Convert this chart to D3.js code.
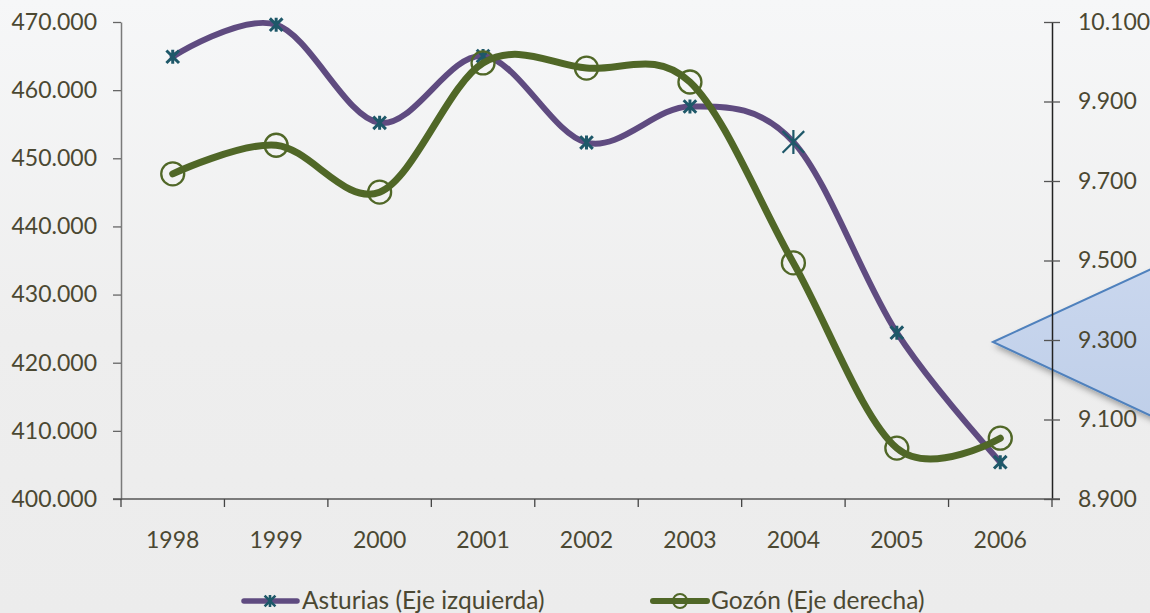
<!DOCTYPE html>
<html><head><meta charset="utf-8">
<script src="https://cdn.jsdelivr.net/npm/d3@7"></script>
<style>html,body{margin:0;padding:0;overflow:hidden;background:#eeeeee}</style>
</head><body>
<script>
const years = ["1998","1999","2000","2001","2002","2003","2004","2005","2006"];
const asturias = [464900, 469600, 455200, 465000, 452300, 457600, 452400, 424400, 405400];
const gozon = [9718, 9790, 9672, 9997, 9984, 9949, 9494, 9028, 9053];
const leftTicks = [400000, 410000, 420000, 430000, 440000, 450000, 460000, 470000];
const rightTicks = [8900, 9100, 9300, 9500, 9700, 9900, 10100];
const seriesNames = ["Asturias (Eje izquierda)", "Gozón (Eje derecha)"];

const W = 1150, H = 613;
const FONT = "Lato, 'Open Sans', sans-serif";
const TXT = "#4b4832";
const PURPLE = "#5f4b80", TEAL = "#1e5869", GREEN = "#506727";

const loc = d3.formatLocale({decimal: ",", thousands: ".", grouping: [3], currency: ["", "€"]});
const fmt = loc.format(",.0f");

const svg = d3.select("body").append("svg").attr("width", W).attr("height", H);
const defs = svg.append("defs");
const bg = defs.append("linearGradient").attr("id", "bg").attr("x1", 0).attr("y1", 0).attr("x2", 0).attr("y2", 1);
bg.append("stop").attr("offset", "0%").attr("stop-color", "#f6f7f8");
bg.append("stop").attr("offset", "55%").attr("stop-color", "#eeeeee");
bg.append("stop").attr("offset", "100%").attr("stop-color", "#ececec");
const cg = defs.append("linearGradient").attr("id", "cg").attr("x1", 0).attr("y1", 0).attr("x2", 0).attr("y2", 1);
cg.append("stop").attr("offset", "0%").attr("stop-color", "#cad7ee");
cg.append("stop").attr("offset", "100%").attr("stop-color", "#bfcfe9");
const sh = defs.append("filter").attr("id", "sh").attr("x", "-20%").attr("y", "-20%").attr("width", "150%").attr("height", "150%");
sh.append("feDropShadow").attr("dx", 3).attr("dy", 4).attr("stdDeviation", 3).attr("flood-color", "#000").attr("flood-opacity", 0.35);

svg.append("rect").attr("width", W).attr("height", H).attr("fill", "url(#bg)");

const x = d3.scaleBand().domain(years).range([121, 1052]);
const yL = d3.scaleLinear().domain([400000, 470000]).range([499, 22]);
const yR = d3.scaleLinear().domain([8900, 10100]).range([499, 22]);
const cx = d => x(d) + x.bandwidth() / 2;

// callout shape (decorative)
svg.append("path")
  .attr("d", "M993,342 L1162,264 L1162,421 Z")
  .attr("fill", "url(#cg)").attr("stroke", "#4f81bd").attr("stroke-width", 2)
  .attr("filter", "url(#sh)");

// left axis
const gL = svg.append("g").attr("transform", "translate(121,0)")
  .call(d3.axisLeft(yL).tickValues(leftTicks).tickFormat(fmt).tickSize(8).tickSizeOuter(0).tickPadding(16));
gL.select(".domain").attr("stroke", "#7a7a7a").attr("stroke-width", 1.5);
gL.selectAll(".tick line").attr("stroke", "#666").attr("stroke-width", 1.3);
gL.selectAll("text").attr("font-family", FONT).attr("font-size", 23).attr("fill", TXT);

// right axis
const gR = svg.append("g").attr("transform", "translate(1052,0)")
  .call(d3.axisRight(yR).tickValues(rightTicks).tickFormat(fmt).tickSize(8).tickSizeOuter(0).tickPadding(18));
gR.select(".domain").attr("stroke", "#222").attr("stroke-width", 1.5);
gR.selectAll(".tick line").attr("x1", -8).attr("stroke", "#555").attr("stroke-width", 1.3);
gR.selectAll("text").attr("font-family", FONT).attr("font-size", 23).attr("fill", TXT);

// bottom axis
const gB = svg.append("g").attr("transform", "translate(0,499)");
gB.append("line").attr("x1", 113).attr("x2", 1060).attr("stroke", "#555").attr("stroke-width", 1.5);
gB.selectAll("line.tk").data(years.concat(["end"])).join("line").attr("class", "tk")
  .attr("x1", (d, i) => i < years.length ? x(d) : x(years[years.length - 1]) + x.bandwidth())
  .attr("x2", (d, i) => i < years.length ? x(d) : x(years[years.length - 1]) + x.bandwidth())
  .attr("y1", 0).attr("y2", 8).attr("stroke", "#444").attr("stroke-width", 1.3);
gB.selectAll("text").data(years).join("text")
  .attr("x", d => cx(d)).attr("y", 49).attr("text-anchor", "middle")
  .attr("font-family", FONT).attr("font-size", 23).attr("fill", TXT).text(d => d);

const curve = d3.curveCardinal.tension(0);
const lineA = d3.line().x((d, i) => cx(years[i])).y(d => yL(d)).curve(curve);
const lineG = d3.line().x((d, i) => cx(years[i])).y(d => yR(d)).curve(curve);

svg.append("path").attr("d", lineA(asturias)).attr("fill", "none").attr("stroke", PURPLE)
  .attr("stroke-width", 6).attr("stroke-linecap", "round").attr("stroke-linejoin", "round");

function star(g, px, py, r, sw) {
  const a = r * 0.9;
  g.append("path").attr("d", `M${px - a},${py - a}L${px + a},${py + a}M${px - a},${py + a}L${px + a},${py - a}M${px},${py - r}L${px},${py + r}`)
    .attr("stroke", TEAL).attr("stroke-width", sw).attr("fill", "none");
}
const mk = svg.append("g");
asturias.forEach((v, i) => {
  const big = years[i] === "2004";
  star(mk, cx(years[i]), yL(v), big ? 12 : 7, big ? 2.2 : 3);
});

svg.append("path").attr("d", lineG(gozon)).attr("fill", "none").attr("stroke", GREEN)
  .attr("stroke-width", 7).attr("stroke-linecap", "round").attr("stroke-linejoin", "round");
svg.append("g").selectAll("circle").data(gozon).join("circle")
  .attr("cx", (d, i) => cx(years[i])).attr("cy", d => yR(d)).attr("r", 11.5)
  .attr("fill", "none").attr("stroke", GREEN).attr("stroke-width", 2.3);

// legend
const lg = svg.append("g");
lg.append("line").attr("x1", 244).attr("x2", 297).attr("y1", 601).attr("y2", 601)
  .attr("stroke", PURPLE).attr("stroke-width", 5.5).attr("stroke-linecap", "round");
star(lg, 270, 601, 6, 2.6);
lg.append("text").attr("x", 302).attr("y", 609).attr("font-family", FONT).attr("font-size", 24.5)
  .attr("fill", TXT).text(seriesNames[0]);
lg.append("line").attr("x1", 653).attr("x2", 707).attr("y1", 601).attr("y2", 601)
  .attr("stroke", GREEN).attr("stroke-width", 6).attr("stroke-linecap", "round");
lg.append("circle").attr("cx", 680).attr("cy", 601).attr("r", 7).attr("fill", "none")
  .attr("stroke", GREEN).attr("stroke-width", 2);
lg.append("text").attr("x", 711).attr("y", 609).attr("font-family", FONT).attr("font-size", 24.5)
  .attr("fill", TXT).text(seriesNames[1]);
</script>
</body></html>
